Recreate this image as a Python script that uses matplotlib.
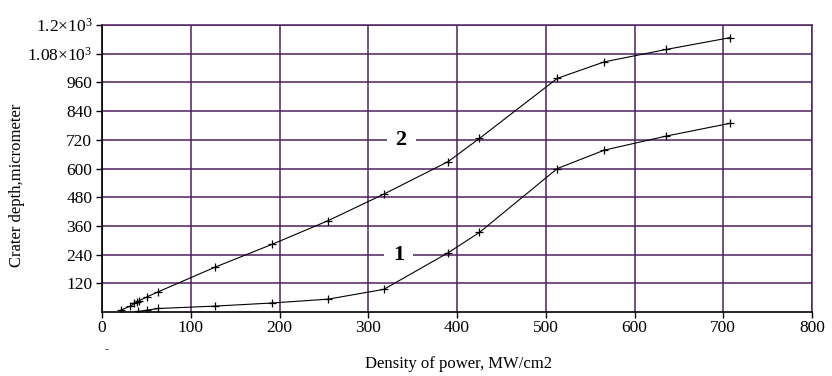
import matplotlib
matplotlib.use("Agg")
import matplotlib.pyplot as plt

plt.rcParams['font.family'] = ['Liberation Serif', 'DejaVu Serif']
plt.rcParams['mathtext.fontset'] = 'stix'

# Curve 2 (upper)
x2 = [21, 32, 36.5, 39, 41.5, 51, 63.5, 127.5, 191.5, 254.7, 317.5, 390, 425.3, 513, 566, 636, 707.6]
y2 = [8, 25, 36, 43, 47, 64, 85, 188, 283, 382, 493, 629, 726, 977, 1046, 1098, 1147]
# Curve 1 (lower)
x1 = [41, 51, 63.5, 127.5, 191.5, 254.7, 317.5, 390, 425.3, 513, 566, 636, 707.6]
y1 = [3, 8, 15, 25, 38, 54, 95, 248, 333, 600, 677, 736, 789]

xticks = [0, 100, 200, 300, 400, 500, 600, 700, 800]
yticks = [120, 240, 360, 480, 600, 720, 840, 960, 1080, 1200]
ytick_labels = ['120', '240', '360', '480', '600', '720', '840', '960',
                r'$\mathregular{1.08{\times}10^3}$', r'$\mathregular{1.2{\times}10^3}$']

grid_color = '#4e2160'

fig = plt.figure(figsize=(8.32, 3.76), dpi=100)
ax = fig.add_axes([0.1226, 0.170, 0.8534, 0.7635])

ax.set_xlim(0, 800)
ax.set_ylim(0, 1200)
ax.set_xticks(xticks)
ax.set_xticklabels([str(v) for v in xticks])
ax.set_yticks(yticks)
ax.set_yticklabels(ytick_labels)
ax.tick_params(axis='both', labelsize=12.5, length=4, width=1, color='black', pad=3)
ax.tick_params(axis='x', direction='out', pad=2)

ax.grid(True, color=grid_color, linewidth=1.1, zorder=0)
ax.set_axisbelow(True)
for s in ['top', 'right']:
    ax.spines[s].set_color(grid_color)
    ax.spines[s].set_linewidth(1.1)
for s in ['left', 'bottom']:
    ax.spines[s].set_color('black')
    ax.spines[s].set_linewidth(1.2)

ax.plot(x2, y2, color='black', linewidth=0.8, marker='+', markersize=6,
        markeredgewidth=0.9, clip_on=True, zorder=3)
ax.plot(x1, y1, color='black', linewidth=0.8, marker='+', markersize=6,
        markeredgewidth=0.9, clip_on=True, zorder=3)

bbox = dict(boxstyle='square,pad=0.4', facecolor='white', edgecolor='none')
ax.text(337, 720, '2', fontsize=16, fontweight='bold', ha='center', va='center',
        bbox=bbox, zorder=2)
ax.text(334, 240, '1', fontsize=16, fontweight='bold', ha='center', va='center',
        bbox=bbox, zorder=2)

fig.text(458 / 832, 1 - 364 / 376, 'Density of power, MW/cm2', fontsize=12,
         ha='center', va='center')
fig.text(17 / 832, 1 - 185 / 376, 'Crater depth,micrometer', fontsize=12,
         ha='center', va='center', rotation=90)
fig.text(107 / 832, 1 - 350 / 376, '-', fontsize=9, ha='center', va='center', color='#555555')

fig.savefig('out.png', dpi=100)
